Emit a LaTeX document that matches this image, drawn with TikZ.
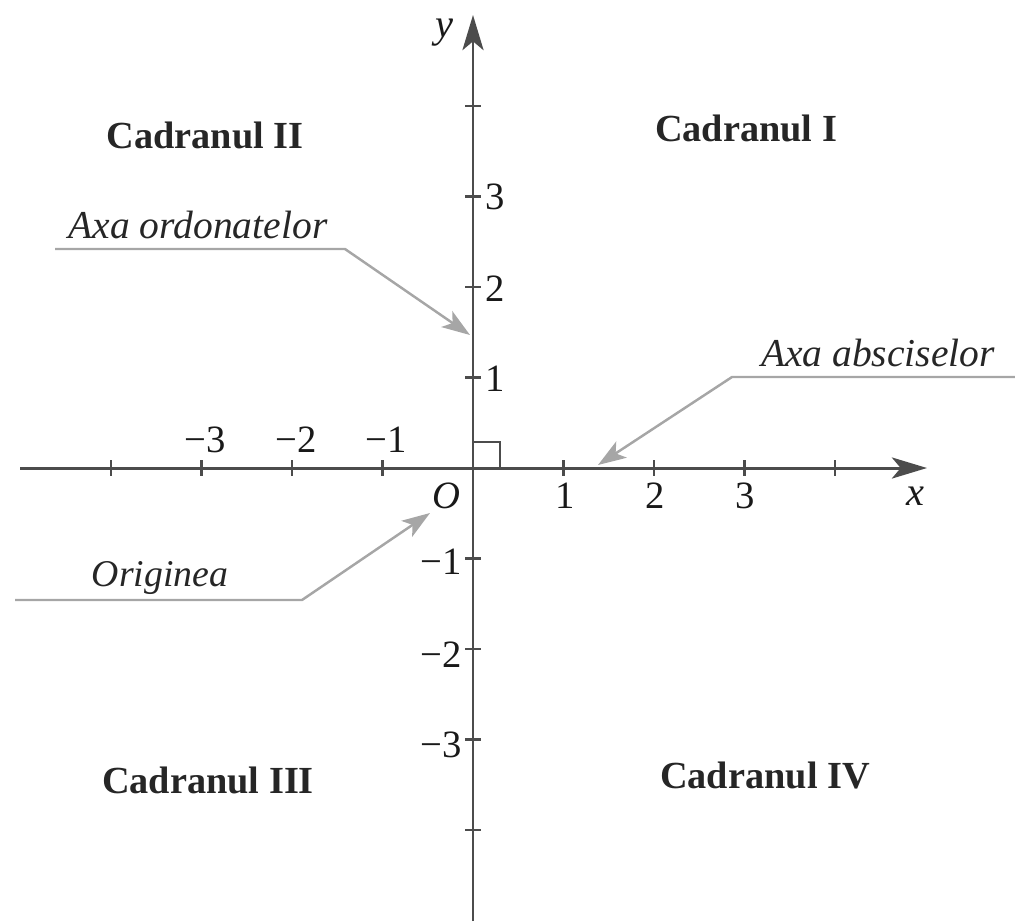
\documentclass[tikz,border=0pt]{standalone}
\usepackage{fontspec}
\setmainfont{Liberation Serif}
\usetikzlibrary{arrows.meta}
\tikzset{
  ax/.style={draw=black!70, line width=1.7pt},
  tick/.style={draw=black!70, line width=1.2pt},
  callout/.style={draw=black!35, line width=1.4pt, -{Stealth[length=16pt,width=11pt,inset=4pt]}},
  quad/.style={font=\fontsize{21.8}{26}\selectfont\bfseries, text=black!85},
  lab/.style={font=\fontsize{22.5}{26}\selectfont\itshape, text=black!85},
  num/.style={font=\fontsize{22}{26}\selectfont, text=black!90},
}
\begin{document}
\begin{tikzpicture}[x=0.02cm,y=-0.02cm]
\useasboundingbox (0,0) rectangle (1015,921);
% axes
\coordinate (O) at (473,468);
\coordinate (xs) at (20,468);
\coordinate (xe) at (927,468);
\coordinate (ys) at (473,921);
\coordinate (ye) at (473,15);
\draw[ax, -{Stealth[length=20pt,width=12pt,inset=5pt]}] (xs) -- (xe);
\draw[ax, -{Stealth[length=20pt,width=12pt,inset=5pt]}] (ys) -- (ye);
% ticks
\foreach \k in {-4,-3,-2,-1,1,2,3,4}{
  \draw[tick] (473+90.5*\k,460) -- ++(0,16);
}
\foreach \k in {-4,-3,-2,-1,1,2,3,4}{
  \draw[tick] (465,468-90.5*\k) -- ++(16,0);
}
% right angle
\draw[draw=black!70, line width=1.1pt] (473,442) -- (500,442) -- (500,468);
% tick labels
\node[num] (xm3) at (205,440) {−3};
\node[num] (xm2) at (296,440) {−2};
\node[num] (xm1) at (386,440) {−1};
\node[num] (x1) at (565,496) {1};
\node[num] (x2) at (655,496) {2};
\node[num] (x3) at (745,496) {3};
\node[num] (y1) at (495,379) {1};
\node[num] (y2) at (495,289) {2};
\node[num] (y3) at (495,197) {3};
\node[num] (ym1) at (441,562) {−1};
\node[num] (ym2) at (441,655) {−2};
\node[num] (ym3) at (441,745) {−3};
\node[num, font=\fontsize{22}{26}\selectfont\itshape] (lO) at (446,496) {O};
\node[num, font=\fontsize{23}{27}\selectfont\itshape] (lx) at (915,496) {x};
\node[num, font=\fontsize{23}{27}\selectfont\itshape] (ly) at (444,33) {y};
% quadrants
\node[quad] (q2) at (205,135) {Cadranul II};
\node[quad] (q1) at (746,128) {Cadranul I};
\node[quad] (q3) at (208,780) {Cadranul III};
\node[quad] (q4) at (765,775) {Cadranul IV};
% callouts
\node[lab] (aord) at (198,225) {Axa ordonatelor};
\node[lab] (aabs) at (878,353) {Axa absciselor};
\node[lab, font=\fontsize{21.5}{26}\selectfont\itshape] (aorig) at (160,578) {Originea};
\coordinate (c1a) at (55,249);
\coordinate (c1b) at (345,249);
\coordinate (c1c) at (470,335);
\coordinate (c2a) at (1015,377);
\coordinate (c2b) at (732,377);
\coordinate (c2c) at (598,465);
\coordinate (c3a) at (15,600);
\coordinate (c3b) at (302,600);
\coordinate (c3c) at (430,513);
\draw[callout] (c1a) -- (c1b) -- (c1c);
\draw[callout] (c2a) -- (c2b) -- (c2c);
\draw[callout] (c3a) -- (c3b) -- (c3c);
\end{tikzpicture}
\end{document}
